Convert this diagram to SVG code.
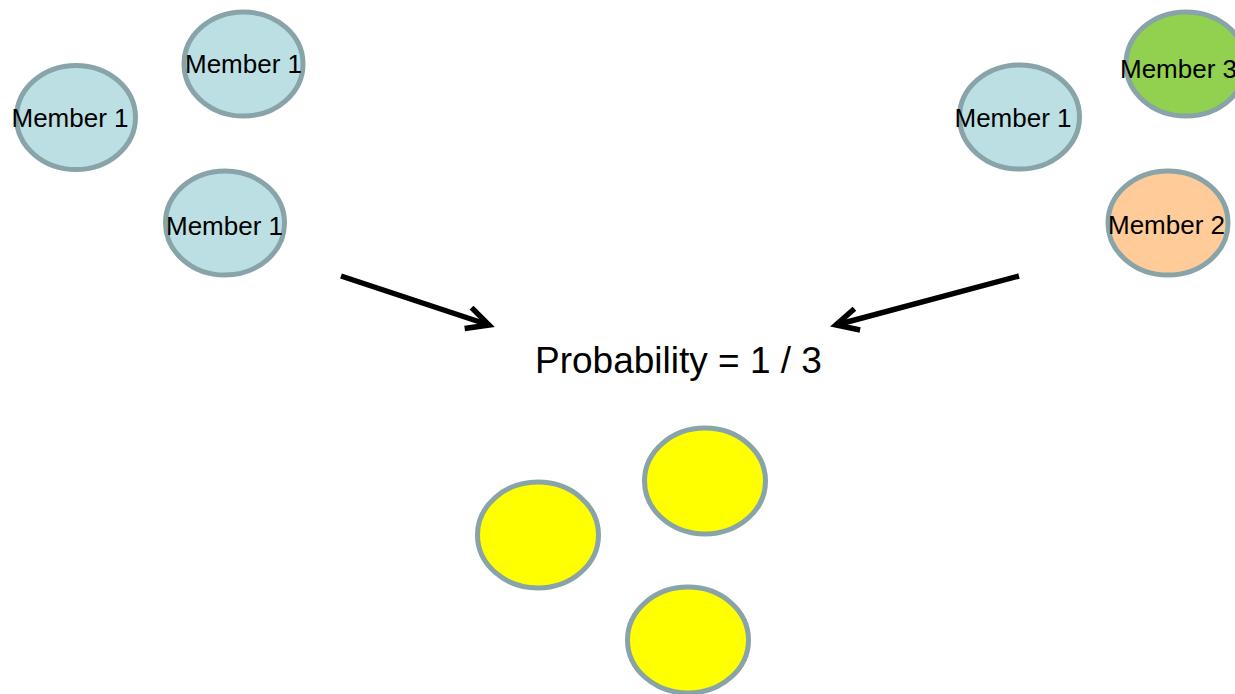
<svg xmlns="http://www.w3.org/2000/svg" width="1235" height="694" viewBox="0 0 1235 694">
<style>
.n{stroke:#88A4A8;stroke-width:5}
.blue{fill:#BBDFE3}
.green{fill:#92D050}
.orange{fill:#FFCC99}
.yellow{fill:#FFFF00}
.t{font-family:"Liberation Sans",Arial,sans-serif;font-size:26px;fill:#000;text-anchor:middle}
.p{font-family:"Liberation Sans",Arial,sans-serif;font-size:37px;fill:#000;text-anchor:middle}
.c{stroke:#000;stroke-width:5.5;fill:none}
</style>
<defs>
<marker id="arr" markerUnits="userSpaceOnUse" markerWidth="40" markerHeight="40" viewBox="-30 -20 40 40" refX="0" refY="0" orient="auto" overflow="visible">
<path d="M-22,-11 L0,0 L-22,11" fill="none" stroke="#000" stroke-width="5.5" stroke-linejoin="miter"/>
</marker>
</defs>
<rect width="1235" height="694" fill="#fff"/>
<g id="left-member-a"><ellipse class="n blue" cx="76" cy="117.5" rx="59.5" ry="52"/><text class="t" x="70" y="127">Member 1</text></g>
<g id="left-member-b"><ellipse class="n blue" cx="243.5" cy="64" rx="59.5" ry="52"/><text class="t" x="243.5" y="72.5">Member 1</text></g>
<g id="left-member-c"><ellipse class="n blue" cx="225" cy="223" rx="59.5" ry="52"/><text class="t" x="224.5" y="234.5">Member 1</text></g>
<g id="right-member-1"><ellipse class="n blue" cx="1019.5" cy="117" rx="60" ry="52"/><text class="t" x="1013" y="127">Member 1</text></g>
<g id="right-member-3"><ellipse class="n green" cx="1186" cy="64" rx="60" ry="52"/><text class="t" x="1178.5" y="77.5">Member 3</text></g>
<g id="right-member-2"><ellipse class="n orange" cx="1168" cy="223" rx="60" ry="52"/><text class="t" x="1166.5" y="233.5">Member 2</text></g>
<g id="probability"><text class="p" x="678.5" y="373">Probability = 1 / 3</text></g>
<g id="yellow-a"><ellipse class="n yellow" cx="538" cy="535" rx="60.5" ry="53"/></g>
<g id="yellow-b"><ellipse class="n yellow" cx="705" cy="481" rx="60.5" ry="53"/></g>
<g id="yellow-c"><ellipse class="n yellow" cx="688" cy="640" rx="60.5" ry="53"/></g>
<g id="connectors">
<line class="c" x1="341" y1="276" x2="489" y2="325" marker-end="url(#arr)"/>
<line class="c" x1="1019" y1="276" x2="836" y2="325" marker-end="url(#arr)"/>
</g>
</svg>
